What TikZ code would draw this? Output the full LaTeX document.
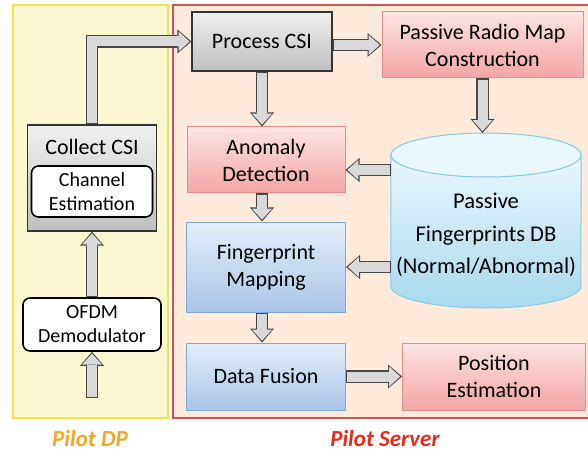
\documentclass[tikz,border=0pt]{standalone}
\usepackage{fontspec}
\setmainfont{Carlito}
\usetikzlibrary{arrows.meta, positioning, backgrounds}

\definecolor{dpfill}{HTML}{FBF7D0}
\definecolor{dpline}{HTML}{F2E24C}
\definecolor{srvfill}{HTML}{FDEADB}
\definecolor{srvline}{HTML}{CC5555}
\definecolor{pinktop}{HTML}{FDE3E3}
\definecolor{pinkbot}{HTML}{F3A5A5}
\definecolor{pinkline}{HTML}{E58C8C}
\definecolor{bluetop}{HTML}{E3EDF9}
\definecolor{bluebot}{HTML}{AAC6EA}
\definecolor{blueline}{HTML}{7FA9D9}
\definecolor{cyltop}{HTML}{E9F6FB}
\definecolor{cylbot}{HTML}{A8DAEF}
\definecolor{cylline}{HTML}{86C9E1}
\definecolor{dporange}{HTML}{F5A623}
\definecolor{srvred}{HTML}{E8291C}

\tikzstyle{graybox} = [rectangle, draw=black!80, line width=1.2pt, top color=gray!12, bottom color=gray!50, align=center]
\tikzstyle{pinkbox} = [rectangle, draw=pinkline, line width=1pt, top color=pinktop, bottom color=pinkbot, align=center]
\tikzstyle{bluebox} = [rectangle, draw=blueline, line width=1pt, top color=bluetop, bottom color=bluebot, align=center]
\tikzstyle{roundbox} = [rectangle, rounded corners=7pt, draw=black, line width=1.6pt, fill=white, align=center, font=\fontsize{20}{24}\selectfont]
\tikzstyle{dbtext} = [rectangle, align=center, font=\fontsize{22.5}{32.5}\selectfont]
\tikzstyle{paneltitle} = [inner sep=1pt, font=\fontsize{23}{26}\selectfont\bfseries\itshape]
\tikzstyle{fatarrow} = [line width=10pt, draw=gray!30, line join=miter, shorten <=1.2pt, shorten >=1.8pt, -{Triangle[length=11pt,width=20pt,line width=0pt]}, preaction={draw=gray!55!black, line width=12.4pt, shorten <=0pt, shorten >=0pt, -{Triangle[length=14pt,width=24pt,line width=0pt]}}]

\begin{document}
\begin{tikzpicture}[x=1pt, y=-1pt, node distance=108pt, font=\fontsize{22}{27}\selectfont]

\useasboundingbox (0,0) rectangle (588,454);

% server side
\node (proc) [graybox, minimum width=140pt, minimum height=59pt] at (262,41.5) {Process CSI};
\node (radio) [pinkbox, minimum width=201pt, minimum height=66pt, right of=proc, xshift=112.5pt, yshift=-3.5pt] {Passive Radio Map\\Construction};
\node (anomaly) [pinkbox, minimum width=158pt, minimum height=66pt, below of=proc, xshift=4pt, yshift=-10.5pt] {Anomaly\\Detection};
\node (finger) [bluebox, minimum width=159pt, minimum height=90pt, below of=anomaly, yshift=1pt] {Fingerprint\\Mapping};
\node (fusion) [bluebox, minimum width=159pt, minimum height=67pt, below of=finger, yshift=-1.5pt] {Data Fusion};
\node (position) [pinkbox, minimum width=183pt, minimum height=67pt, right of=fusion, xshift=120pt] {Position\\Estimation};
\node (db) [dbtext, minimum width=190pt, minimum height=175pt] at (486,235) {Passive\\Fingerprints DB\\(Normal/Abnormal)};
\coordinate (dbtop) at ([yshift=102pt]db.center);

% pilot DP side
\node (collect) [graybox, minimum width=129pt, minimum height=106pt, label={[anchor=center, yshift=-23pt]north:Collect CSI}] at (92,178) {};
\node (channel) [roundbox, minimum width=121pt, minimum height=51pt] at ([yshift=-13.5pt]collect.center) {Channel\\Estimation};
\node (demod) [roundbox, minimum width=138pt, minimum height=53pt, below of=collect, yshift=-38.5pt] {OFDM\\Demodulator};
\coordinate (input) at (92,398);

\node (dplabel) [paneltitle, text=dporange] at (90,439) {Pilot DP};
\node (srvlabel) [paneltitle, text=srvred] at (385,439) {Pilot Server};

\begin{pgfonlayer}{background}
\draw [fill=dpfill, draw=dpline, line width=2pt] (13,5) rectangle (168,418);
\draw [fill=srvfill, draw=srvline, line width=2pt] (173,5) rectangle (592,418);
\draw [draw=cylline, line width=1pt, top color=cyltop, bottom color=cylbot] ([yshift=80pt]db.west) -- ([yshift=-51pt]db.west) arc [start angle=180, end angle=360, x radius=95pt, y radius=22pt] -- ([yshift=80pt]db.east) -- cycle;
\draw [draw=cylline, line width=1pt, fill=cyltop] ([yshift=80pt]db.center) ellipse [x radius=95pt, y radius=22pt];
\end{pgfonlayer}

\coordinate (m1) at ([yshift=-10pt]anomaly.east);

\draw [fatarrow] (input) -- (demod.south);
\draw [fatarrow] (demod.north) -- (collect.south);
\draw [fatarrow] (collect.north) |- (proc.west);
\draw [fatarrow] (proc.east |- radio.west) -- (radio.west);
\draw [fatarrow] (proc.south) -- (proc.south |- anomaly.north);
\draw [fatarrow] (radio.south) -- (radio.south |- dbtop);
\draw [fatarrow] (db.west |- m1) -- (m1);
\draw [fatarrow] (anomaly.south -| proc.south) -- (finger.north -| proc.south);
\draw [fatarrow] (db.west |- finger.east) -- (finger.east);
\draw [fatarrow] (finger.south -| proc.south) -- (fusion.north -| proc.south);
\draw [fatarrow] (fusion.east) -- (position.west);

\end{tikzpicture}
\end{document}
